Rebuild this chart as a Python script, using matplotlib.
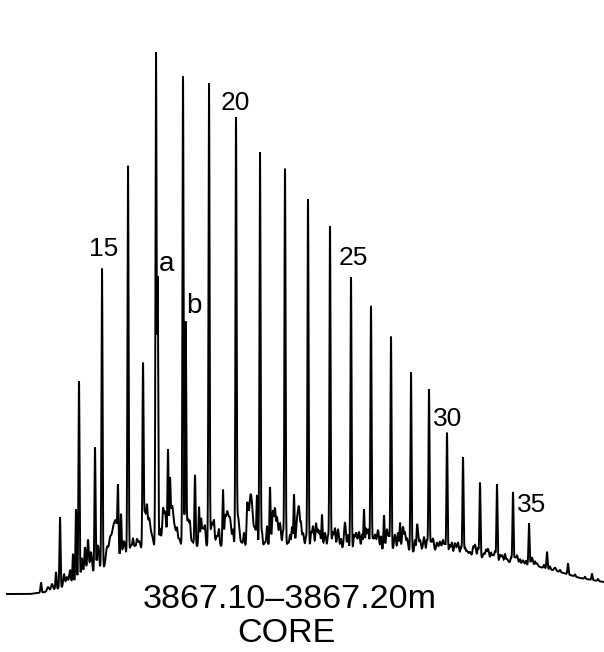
import matplotlib
matplotlib.use("Agg")
import matplotlib.pyplot as plt
import numpy as np

plt.rcParams["font.family"] = ["Liberation Sans", "DejaVu Sans"]

# Unresolved hump under the peaks (retention units, detector response)
hump_rt = [7, 30, 45, 60, 75, 90, 105, 120, 135, 150, 170, 200, 250, 300,
           350, 400, 440, 470, 500, 520, 540, 560, 580, 604]
hump_level = [58, 58, 60, 64, 70, 77, 85, 94, 100, 103, 105, 106, 106, 105,
              103, 101, 99, 96, 91, 88, 85, 80, 74, 70]

# n-alkanes C13 .. C38, apex height above the hump
alkane_carbon = list(range(13, 39))
alkane_rt = [60, 79, 102, 128, 156, 183, 209, 236, 260, 285, 308, 330, 351,
             371, 391, 411, 429, 447, 463, 480, 497, 513, 529, 547, 568, 592]
alkane_height = [71, 199, 300, 389, 494, 470, 463, 429, 394, 378, 348, 322,
                 272, 244, 214, 179, 163, 121, 98, 75, 76, 71, 42, 17, 11, 6]

# pristane (a) and phytane (b)
isoprenoid_names = ["a", "b"]
isoprenoid_rt = [157.7, 185.7]
isoprenoid_height = [268, 225]

# other resolved minor peaks
minor_rt = [41, 56, 73, 76, 95, 118, 121, 143, 168, 170, 195, 199, 223, 247,
            257, 270, 294, 322, 364, 384, 400, 417]
minor_height = [10, 17, 29, 72, 125, 60, 43, 176, 95, 57, 71, 39, 56, 33,
                49, 59, 52, 33, 40, 35, 28, 23]

# broad bumps of the unresolved complex mixture
bump_rt = [48, 52, 64, 67, 70, 82, 85, 88, 91, 98, 107, 110, 113, 116, 124,
           131, 135, 139, 145, 149, 152, 162, 165, 172, 175, 179, 188, 192,
           203, 212, 217, 227, 230, 238, 242, 250, 252, 255, 265, 273, 277,
           280, 288, 297, 299, 303, 313, 318, 325, 333, 338, 345, 356, 359,
           368, 375, 378, 387, 395, 403, 407, 420, 424, 433, 437, 440, 443,
           450, 455, 458, 467, 470, 475, 484, 488, 493, 502, 507, 517, 523,
           532, 537, 555]
bump_height = [4, 6, 12, 8, 14, 20, 30, 36, 22, 25, 18, 22, 30, 35, 15,
               8, 6, 10, 38, 30, 12, 12, 35, 40, 17, 8, 27, 5,
               18, 23, 10, 33, 26, 29, 3, 38, 31, 16, 4, 36, 29,
               23, 4, 24, 37, 14, 21, 18, 15, 16, 19, 26, 16, 17,
               20, 15, 20, 21, 16, 24, 13, 12, 15, 14, 10, 11, 13,
               9, 11, 12, 5, 4, 12, 5, 10, 5, 6, 3, 8, 4,
               8, 3, 3]
bump_width = [1.0, 1.0, 0.8, 1.0, 0.8, 0.8, 0.8, 0.8, 1.0, 1.0, 1.2, 1.2,
              1.5, 1.5, 1.2] + [1.3] * 22 + [1.0] * 46

# finer jagged detail riding on the hump
ripple_rt = [133, 137, 147, 160, 163, 177, 190, 201, 205, 214, 219, 225,
             233, 244, 248, 262, 267, 275, 283, 290, 292, 301, 306, 311,
             316, 320, 328, 335, 341, 348, 354, 362, 366, 373, 381, 389,
             398, 405, 415, 418, 427, 431, 445, 452, 461, 465, 473, 478,
             486, 491, 495, 500, 505, 511, 515, 520, 526, 535, 544, 550,
             560, 575, 585, 598]
ripple_height = [10, 8, 25, 15, 20, 12, 15, 22, 15, 18, 14, 20,
                 15, 12, 22, 14, 20, 30, 15, 12, 20, 18, 10, 12,
                 22, 14, 12, 18, 10, 14, 12, 15, 18, 10, 14, 12,
                 18, 14, 12, 15, 12, 10, 8, 10, 8, 7, 8, 9,
                 7, 6, 8, 5, 7, 5, 5, 5, 4, 4, 3, 3,
                 2, 2, 2, 2]

labelled = [15, 20, 25, 30, 35]
sample_depth = "3867.10\u20133867.20m"
sample_type = "CORE"

SHARP = 0.55


def gauss(x, x0, h, s):
    return h * np.exp(-0.5 * ((x - x0) / s) ** 2)


rt = np.arange(7, 604.01, 0.1)
hump = np.interp(rt, hump_rt, hump_level)
background = hump.copy()
for x0, h in zip(minor_rt, minor_height):
    background += gauss(rt, x0, h, SHARP)
for x0, h, s in zip(bump_rt, bump_height, bump_width):
    background += gauss(rt, x0, h, s)
for x0, h in zip(ripple_rt, ripple_height):
    background += gauss(rt, x0, h, 0.6)

# scale the big peaks so their apex sits at the listed height above the hump
signal = background.copy()
for x0, h in zip(alkane_rt + isoprenoid_rt, alkane_height + isoprenoid_height):
    extra = np.interp(x0, rt, background - hump)
    signal += gauss(rt, x0, max(h - extra, 0), SHARP)


def apex(x0):
    sel = np.abs(rt - x0) < 1.0
    return signal[sel].max()


fig = plt.figure(figsize=(6.04, 6.52), dpi=100)
ax = fig.add_axes([0, 0, 1, 1])
ax.plot(rt, signal, color="black", lw=1.4, solid_joinstyle="miter")

# carbon-number labels
label_shift = {15: (2, 8), 20: (-1, 2), 25: (2, 7), 30: (1, 2), 35: (3, 6)}
for c in labelled:
    x0 = alkane_rt[alkane_carbon.index(c)]
    dx, dy = label_shift[c]
    ax.text(x0 + dx, apex(x0) + dy, str(c), ha="center", va="bottom",
            fontsize=19)

for name, x0, dy in zip(isoprenoid_names, isoprenoid_rt, [-1, 2]):
    ax.text(x0 + 1, apex(x0) + dy, name, ha="left", va="bottom",
            fontsize=20)

ax.text(290, 53, sample_depth, ha="center", va="center", fontsize=24.5)
ax.text(286, 18, sample_type, ha="center", va="center", fontsize=24.5)

ax.set_xlim(0, 604)
ax.set_ylim(0, 652)
ax.axis("off")
fig.savefig("out.png", dpi=100, facecolor="white")
